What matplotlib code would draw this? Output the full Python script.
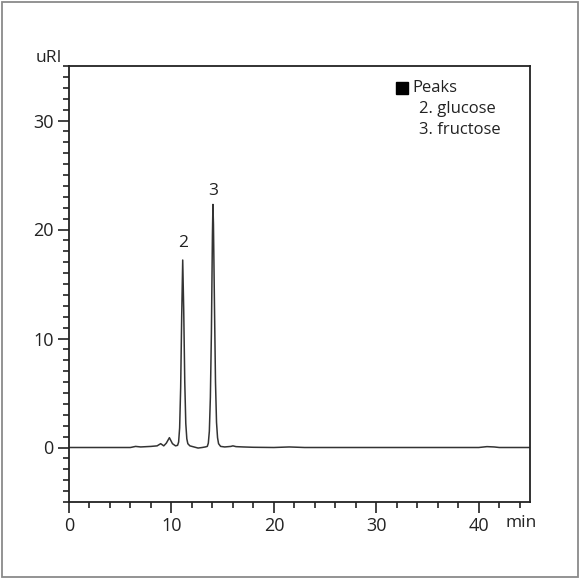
import matplotlib
matplotlib.use("Agg")
import matplotlib.pyplot as plt
from matplotlib.patches import Rectangle
from matplotlib.ticker import MultipleLocator

plt.rcParams['font.family'] = ['Open Sans', 'DejaVu Sans']

# Chromatogram trace (time in min, signal in uRI)
time_min = [0.0, 6.0, 6.5, 7.0, 8.0, 8.6, 8.95, 9.25, 9.5, 9.8, 10.1, 10.4,
            10.6, 10.7, 10.8, 10.9, 11.0, 11.1, 11.2, 11.3, 11.4, 11.5, 11.6, 11.8,
            12.2, 12.6, 13.0, 13.3, 13.5, 13.6, 13.7, 13.8, 13.9, 14.0, 14.05,
            14.1, 14.2, 14.3, 14.4, 14.5, 14.6, 14.8, 15.2, 15.8, 16.0, 16.3,
            17.0, 18.0, 20.0, 21.5, 23.0, 30.0, 40.0, 40.8, 41.5, 42.0, 45.0]
signal_uri = [0.0, 0.0, 0.1, 0.05, 0.1, 0.15, 0.35, 0.15, 0.4, 0.9, 0.35, 0.15,
              0.2, 0.5, 1.8, 5.5, 12.0, 17.2, 12.5, 6.0, 2.2, 0.8, 0.35, 0.15,
              0.05, -0.05, 0.0, 0.05, 0.1, 0.4, 1.5, 4.6, 10.5, 19.5, 22.3,
              20.5, 13.0, 6.0, 2.3, 0.9, 0.35, 0.1, 0.05, 0.1, 0.15, 0.08,
              0.05, 0.02, 0.0, 0.05, 0.0, 0.0, 0.0, 0.08, 0.05, 0.0, 0.0]

peak_ids = ["2", "3"]
peak_times = [11.1, 14.05]
peak_label_y = [18.8, 23.5]
legend_title = "Peaks"
legend_items = ["2. glucose", "3. fructose"]

fig = plt.figure(figsize=(5.8, 5.79), dpi=100)
fig.patches.append(Rectangle((0.004, 0.004), 0.992, 0.992, transform=fig.transFigure,
                             fill=False, edgecolor='#8a8a8a', linewidth=1.3))

ax = fig.add_axes([69/580, 1-502/579, (530-69)/580, (502-66)/579])
ax.plot(time_min, signal_uri, color='#333333', linewidth=1.1)
ax.set_xlim(0, 45)
ax.set_ylim(-5, 35)

for s in ax.spines.values():
    s.set_linewidth(1.3)
    s.set_color('#222222')

ax.xaxis.set_major_locator(MultipleLocator(10))
ax.xaxis.set_minor_locator(MultipleLocator(2))
ax.yaxis.set_major_locator(MultipleLocator(10))
ax.yaxis.set_minor_locator(MultipleLocator(1))
ax.tick_params(which='major', direction='out', length=8, width=1.2, labelsize=13,
               color='#222222', labelcolor='#222222')
ax.tick_params(which='minor', direction='out', length=4, width=1.2, color='#222222')
ax.tick_params(axis='x', pad=3)
ax.tick_params(axis='y', pad=3)

for pid, t, y in zip(peak_ids, peak_times, peak_label_y):
    ax.text(t, y, pid, ha='center', va='center', fontsize=12.5, color='#222222')

ax.text(-0.015, 1.0, "uRI", transform=ax.transAxes, ha='right', va='bottom',
        fontsize=12.5, color='#222222')
ax.text(0.98, -0.048, "min", transform=ax.transAxes, ha='center', va='center',
        fontsize=12.5, color='#222222')

ax.plot([0.722], [0.950], marker='s', markersize=8, color='black',
        transform=ax.transAxes, clip_on=False)
ax.text(0.744, 0.950, legend_title, transform=ax.transAxes, ha='left', va='center',
        fontsize=12, color='#222222')
for i, item in enumerate(legend_items):
    ax.text(0.760, 0.901 - i*0.048, item, transform=ax.transAxes, ha='left',
            va='center', fontsize=12, color='#222222')

fig.savefig("out.png", dpi=100)
